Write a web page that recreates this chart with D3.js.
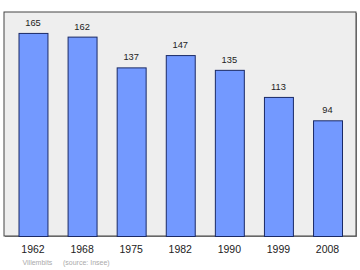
<!DOCTYPE html>
<html><head><meta charset="utf-8">
<script src="https://cdn.jsdelivr.net/npm/d3@7"></script>
<style>body{margin:0;background:#fff}svg{display:block;font-family:"Liberation Sans",Arial,sans-serif}</style>
</head><body>
<svg id="c" width="360" height="270"></svg>
<script>
const years = ["1962","1968","1975","1982","1990","1999","2008"];
const population = [165,162,137,147,135,113,94];
const sourceName = "Villembits";
const sourceNote = "(source: Insee)";

const svg = d3.select("#c");
const L = 4, T = 12, R = 356, B = 236;
const x = d3.scaleBand().domain(years).range([18.5, 342]).paddingInner(0.41).paddingOuter(0);
const y = d3.scaleLinear().domain([0, 182]).range([B, T]);

svg.append("rect").attr("x", L + 1).attr("y", T + 1).attr("width", R - L).attr("height", B - T)
  .attr("fill", "#888");
svg.append("rect").attr("x", L).attr("y", T).attr("width", R - L).attr("height", B - T)
  .attr("fill", "#eeeeee").attr("stroke", "#444").attr("stroke-width", 1);

svg.selectAll("rect.bar").data(population).enter().append("rect").attr("class", "bar")
  .attr("x", (d, i) => x(years[i]) + 0.5)
  .attr("y", d => y(d) + 0.5)
  .attr("width", x.bandwidth())
  .attr("height", d => B - y(d))
  .attr("fill", "#7399ff").attr("stroke", "#1a2a66").attr("stroke-width", 1);

svg.selectAll("text.val").data(population).enter().append("text").attr("class", "val")
  .attr("x", (d, i) => x(years[i]) + x.bandwidth() / 2)
  .attr("y", d => y(d) - 7)
  .attr("text-anchor", "middle").attr("font-size", 9.3).attr("fill", "#222")
  .text(d => d);

const ax = svg.append("g").attr("transform", `translate(0,${B})`)
  .call(d3.axisBottom(x).tickSize(0).tickPadding(10));
ax.select(".domain").remove();
ax.selectAll("text").attr("font-size", 10.5).attr("fill", "#222").attr("font-family", "Liberation Sans, Arial, sans-serif");

svg.append("text").attr("x", 22.5).attr("y", 265).attr("font-size", 7).attr("fill", "#aaa").text(sourceName);
svg.append("text").attr("x", 63).attr("y", 265).attr("font-size", 7).attr("fill", "#aaa").text(sourceNote);
</script>
</body></html>
